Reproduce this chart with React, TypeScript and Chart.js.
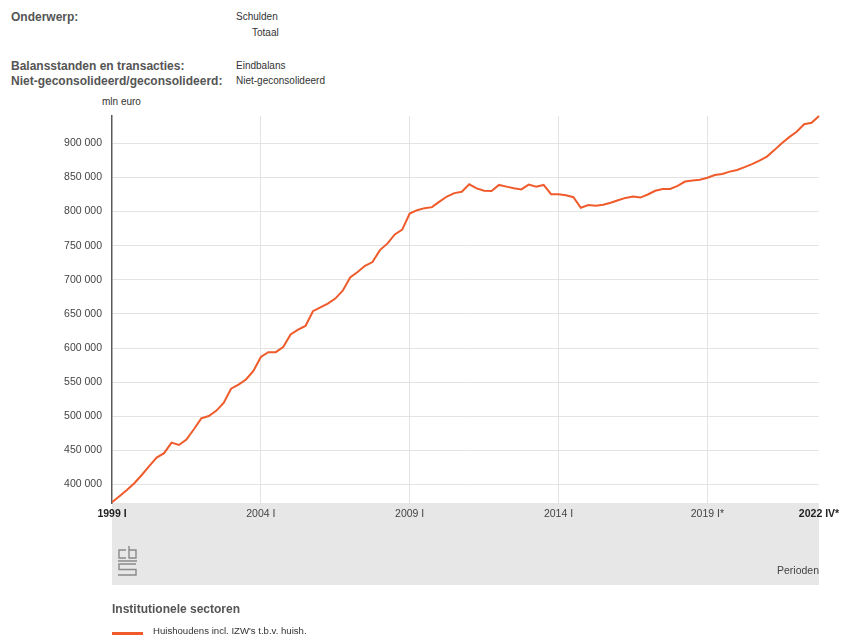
import React, { useEffect, useRef } from "react";
import { Chart, registerables } from "chart.js";

Chart.register(...registerables);

const FONT = "'Liberation Sans', Arial, Helvetica, sans-serif";

const years = [
  1999, 2000, 2001, 2002, 2003, 2004, 2005, 2006, 2007, 2008, 2009, 2010,
  2011, 2012, 2013, 2014, 2015, 2016, 2017, 2018, 2019, 2020, 2021, 2022,
];
const quarters = ["I", "II", "III", "IV"];
const provisionalFrom = 2019;

// Schulden huishoudens, mln euro, per kwartaal (1999 I .. 2022 IV)
const debtValues = [
  374000, 383000, 392000, 402000, // 1999
  414000, 427000, 439500, 446000, // 2000
  461500, 458000, 466000, 481000, // 2001
  497000, 500500, 508000, 519500, // 2002
  540500, 546500, 554000, 566500, // 2003
  587000, 594000, 594000, 601500, // 2004
  620000, 627000, 632500, 654000, // 2005
  659500, 665000, 672500, 684000, // 2006
  703500, 711500, 720500, 726000, // 2007
  743500, 753000, 766500, 773500, // 2008
  797000, 802000, 805000, 806500, // 2009
  814500, 822000, 827000, 829000, // 2010
  840000, 834000, 830500, 830000, // 2011
  839000, 836500, 834000, 832500, // 2012
  839500, 836500, 839000, 825500, // 2013
  825500, 824000, 821000, 805500, // 2014
  809500, 808500, 810000, 813000, // 2015
  816500, 820000, 822000, 820500, // 2016
  825000, 830500, 833000, 833000, // 2017
  837500, 844000, 845500, 846500, // 2018
  849500, 853500, 855000, 858500, // 2019
  861000, 865000, 869500, 874500, // 2020
  880500, 890000, 900000, 909000, // 2021
  917000, 928000, 930000, 940000, // 2022
];

const periodLabels: string[] = [];
years.forEach((y) =>
  quarters.forEach((q) =>
    periodLabels.push(`${y} ${q}${y >= provisionalFrom ? "*" : ""}`)
  )
);

const shownTicks = ["1999 I", "2004 I", "2009 I", "2014 I", "2019 I*", "2022 IV*"];
const boldTicks = ["1999 I", "2022 IV*"];
const yTickValues = [400000, 450000, 500000, 550000, 600000, 650000, 700000, 750000, 800000, 850000, 900000];
const yMin = 373000;
const yMax = 940000;

const seriesLabel = "Huishoudens incl. IZW's t.b.v. huish.";
const legendTitle = "Institutionele sectoren";
const unitLabel = "mln euro";
const axisTitle = "Perioden";
const lineColor = "#ef5b2b";

const headerRows = [
  { label: "Onderwerp:", value: "Schulden", y: 17 },
  { label: "", value: "Totaal", y: 33, indent: 16 },
  { label: "Balansstanden en transacties:", value: "Eindbalans", y: 66 },
  { label: "Niet-geconsolideerd/geconsolideerd:", value: "Niet-geconsolideerd", y: 81 },
];

const fmt = (v: number) =>
  String(Math.round(v)).replace(/\B(?=(\d{3})+(?!\d))/g, " ");

const bandPlugin = {
  id: "band",
  beforeDraw(chart: any) {
    const { ctx, chartArea } = chart;
    ctx.save();
    ctx.fillStyle = "#e7e7e7";
    ctx.fillRect(chartArea.left, chartArea.bottom, chartArea.right - chartArea.left, 82);
    // CBS logo (simplified)
    ctx.strokeStyle = "#8a8a8a";
    ctx.lineWidth = 1.4;
    const x0 = 118, y0 = 546;
    ctx.beginPath();
    ctx.moveTo(x0 + 8, y0 + 4);
    ctx.lineTo(x0 + 1, y0 + 4);
    ctx.lineTo(x0 + 1, y0 + 12);
    ctx.lineTo(x0 + 8, y0 + 12);
    ctx.moveTo(x0 + 11, y0);
    ctx.lineTo(x0 + 11, y0 + 12);
    ctx.lineTo(x0 + 18, y0 + 12);
    ctx.lineTo(x0 + 18, y0 + 4);
    ctx.lineTo(x0 + 11, y0 + 4);
    ctx.moveTo(x0, y0 + 15);
    ctx.lineTo(x0 + 19, y0 + 15);
    ctx.moveTo(x0 + 18, y0 + 18);
    ctx.lineTo(x0 + 1, y0 + 18);
    ctx.lineTo(x0 + 1, y0 + 23.5);
    ctx.lineTo(x0 + 18, y0 + 23.5);
    ctx.lineTo(x0 + 18, y0 + 29);
    ctx.lineTo(x0, y0 + 29);
    ctx.stroke();
    ctx.fillStyle = "#444";
    ctx.font = `10.5px ${FONT}`;
    ctx.textAlign = "right";
    ctx.textBaseline = "middle";
    ctx.fillText(axisTitle, chartArea.right, 571);
    ctx.restore();
  },
};

export default function App() {
  const ref = useRef<HTMLCanvasElement | null>(null);

  useEffect(() => {
    if (!ref.current) return;
    const last = periodLabels.length - 1;
    const tickLabel = (c: any) =>
      c && c.tick && c.tick.value !== undefined ? periodLabels[c.tick.value] : "";
    const isBold = (c: any) => boldTicks.includes(tickLabel(c));
    const chart = new Chart(ref.current, {
      type: "line",
      data: {
        labels: periodLabels,
        datasets: [
          {
            label: seriesLabel,
            data: debtValues,
            borderColor: lineColor,
            backgroundColor: lineColor,
            borderWidth: 2,
            pointRadius: 0,
            tension: 0,
            clip: false as any,
          },
        ],
      },
      options: {
        responsive: false,
        animation: false,
        layout: { padding: { top: 116, right: 34, left: 0, bottom: 0 } },
        plugins: { legend: { display: false }, tooltip: { enabled: false } },
        scales: {
          x: {
            type: "category",
            afterBuildTicks: (s: any) => {
              s.ticks = shownTicks.map((l) => ({ value: periodLabels.indexOf(l) }));
            },
            afterFit: (s: any) => {
              s.height = 136;
            },
            border: { display: false },
            grid: {
              drawTicks: false,
              lineWidth: 1,
              color: (c: any) => {
                const v = c && c.tick ? c.tick.value : -1;
                return v > 0 && v < last ? "#e3e3e3" : "rgba(0,0,0,0)";
              },
            },
            ticks: {
              autoSkip: false,
              maxRotation: 0,
              minRotation: 0,
              padding: 5,
              color: (c: any) => (isBold(c) ? "#222" : "#444"),
              font: (c: any) => ({
                family: FONT,
                size: 10.5,
                weight: isBold(c) ? "bold" : "normal",
              }),
              callback: (v: any) => periodLabels[Number(v)],
            },
          },
          y: {
            min: yMin,
            max: yMax,
            afterBuildTicks: (s: any) => {
              s.ticks = yTickValues.map((v) => ({ value: v }));
            },
            afterFit: (s: any) => {
              s.width = 112;
            },
            border: { display: true, color: "#5a5a5a", width: 1.5 },
            grid: { drawTicks: false, color: "#e3e3e3", lineWidth: 1 },
            ticks: {
              padding: 10,
              color: "#444",
              font: { family: FONT, size: 10.5 },
              callback: (v: any) => fmt(Number(v)),
            },
          },
        },
      },
      plugins: [bandPlugin],
    });
    return () => chart.destroy();
  }, []);

  const text = (size: number, weight: string | number, color: string) => ({
    position: "absolute" as const,
    fontFamily: FONT,
    fontSize: size,
    fontWeight: weight as any,
    color,
    lineHeight: `${size}px`,
    whiteSpace: "nowrap" as const,
  });

  return (
    <div
      style={{
        position: "absolute",
        left: 0,
        top: 0,
        width: 853,
        height: 639,
        overflow: "hidden",
        background: "#fff",
      }}
    >
      {headerRows.map((r, i) => (
        <React.Fragment key={i}>
          {r.label && (
            <div style={{ ...text(12, "bold", "#555"), left: 11, top: r.y - 6 }}>{r.label}</div>
          )}
          <div style={{ ...text(10, "normal", "#333"), left: 236 + (r.indent || 0), top: r.y - 5 }}>
            {r.value}
          </div>
        </React.Fragment>
      ))}
      <div style={{ ...text(10, "normal", "#333"), left: 102, top: 97 }}>{unitLabel}</div>
      <canvas
        ref={ref}
        width={853}
        height={639}
        style={{ position: "absolute", left: 0, top: 0, width: 853, height: 639 }}
      />
      <div style={{ ...text(12, 600, "#555"), left: 112, top: 603 }}>{legendTitle}</div>
      <div
        style={{
          position: "absolute",
          left: 112,
          top: 632,
          width: 31,
          height: 3,
          background: lineColor,
        }}
      />
      <div style={{ ...text(9.6, "normal", "#333"), left: 153, top: 626 }}>{seriesLabel}</div>
    </div>
  );
}
